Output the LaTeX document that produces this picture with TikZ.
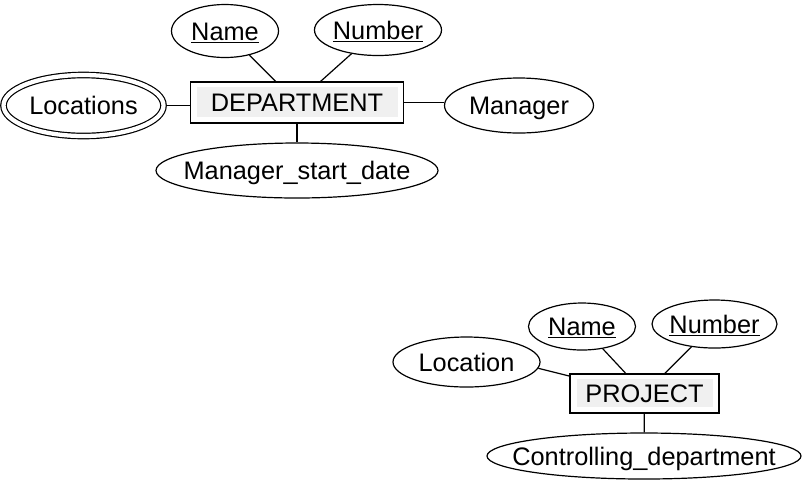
\documentclass[tikz,border=0pt]{standalone}
\usepackage{fontspec}
\setmainfont{Liberation Sans}
\usetikzlibrary{shapes.geometric}
\tikzset{
  lbl/.style={font=\fontsize{19}{22}\selectfont, text height=13.7pt, text depth=0pt, inner sep=0pt},
  attr/.style={ellipse, draw, line width=0.9pt, inner sep=0pt},
  entity/.style={rectangle, draw, line width=0.9pt, inner sep=0pt,
    font=\fontsize{19}{22}\selectfont, text height=13.7pt, text depth=0pt,
    path picture={\fill[gray!12] ([xshift=5pt,yshift=-4pt]path picture bounding box.north west)
      rectangle ([xshift=-4.5pt,yshift=4.5pt]path picture bounding box.south east);}},
  conn/.style={line width=0.9pt}
}
\begin{document}
\begin{tikzpicture}[x=0.75pt,y=-0.75pt]
\useasboundingbox (0,0) rectangle (802,480);
% DEPARTMENT
\node[attr, minimum width=80.25pt, minimum height=39.75pt, label={[lbl]center:\underline{Name}}] (dname) at (225,31) {};
\node[attr, minimum width=95.25pt, minimum height=38.25pt, label={[lbl]center:\underline{Number}}] (dnum) at (378,30) {};
\node[entity, minimum width=159.75pt, minimum height=30.75pt] (dept) at (297,102.5) {DEPARTMENT};
\node[attr, double, double distance=3.2pt, minimum width=120pt, minimum height=45.75pt, outer sep=2.5pt, label={[lbl]center:Locations}] (locs) at (83.5,105.5) {};
\node[attr, minimum width=111.75pt, minimum height=41.25pt, label={[lbl]center:Manager}] (mgr) at (519,105.5) {};
\node[attr, minimum width=211.5pt, minimum height=41.25pt, label={[lbl]center:Manager\_start\_date}] (msd) at (297,170.5) {};
\draw[conn] (dname) -- (dept);
\draw[conn] (dnum) -- (dept);
\draw[conn] (locs.east) -- (locs.east -| dept.west);
\draw[conn] (dept.east) -- (dept.east -| mgr.west);
\draw[conn] (dept) -- (msd);
% PROJECT
\node[attr, minimum width=80.25pt, minimum height=35.25pt, label={[lbl]center:\underline{Name}}] (pname) at (582,326.5) {};
\node[attr, minimum width=93.75pt, minimum height=36pt, label={[lbl]center:\underline{Number}}] (pnum) at (714.5,324) {};
\node[entity, minimum width=111.75pt, minimum height=29.25pt] (proj) at (644.5,393.5) {PROJECT};
\node[attr, minimum width=110.25pt, minimum height=37.5pt, label={[lbl]center:Location}] (ploc) at (466.5,362) {};
\node[attr, minimum width=235.5pt, minimum height=34.5pt, label={[lbl]center:Controlling\_department}] (cdept) at (644,456) {};
\draw[conn] (pname) -- (proj);
\draw[conn] (pnum) -- (proj);
\draw[conn] (ploc.-5) -- ([yshift=-2pt]proj.north west);
\draw[conn] (proj) -- (cdept);
\end{tikzpicture}
\end{document}
